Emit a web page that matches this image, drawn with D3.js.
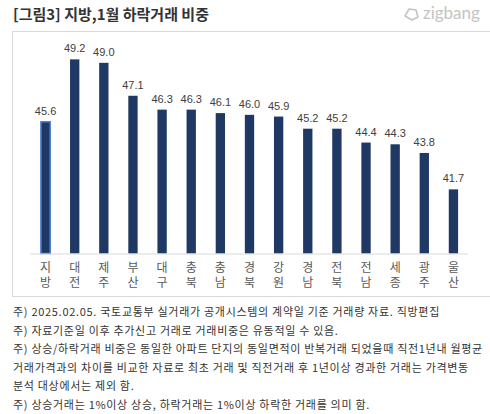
<!DOCTYPE html>
<html>
<head>
<meta charset="utf-8">
<script src="https://cdn.jsdelivr.net/npm/d3@7"></script>
<style>
  body { margin: 0; background: #fff; }
  svg { display: block; font-family: "Noto Sans CJK KR", "Noto Sans", sans-serif; }
</style>
</head>
<body>
<svg id="chart" width="490" height="414"></svg>
<script>
// regions, left to right
const regions = ["지방", "대전", "제주", "부산", "대구", "충북", "충남", "경북", "강원", "경남", "전북", "전남", "세종", "광주", "울산"];
// share of falling trades, Jan (%)
const shares = [45.6, 49.2, 49.0, 47.1, 46.3, 46.3, 46.1, 46.0, 45.9, 45.2, 45.2, 44.4, 44.3, 43.8, 41.7];
const notes = [
  "주) 2025.02.05. 국토교통부 실거래가 공개시스템의 계약일 기준 거래량  자료. 직방편집",
  "주) 자료기준일 이후 추가신고 거래로 거래비중은 유동적일 수 있음.",
  "주) 상승/하락거래 비중은 동일한 아파트 단지의 동일면적이 반복거래 되었을때 직전1년내 월평균",
  "거래가격과의 차이를 비교한 자료로 최초 거래 및 직전거래 후 1년이상 경과한 거래는 가격변동",
  "분석 대상에서는 제외 함.",
  "주) 상승거래는 1%이상 상승, 하락거래는 1%이상 하락한 거래를 의미 함."
];

const data = regions.map((r, i) => ({ region: r, value: shares[i] }));

const svg = d3.select("#chart");

// title + logo
svg.append("text")
  .attr("x", 13).attr("y", 20)
  .attr("font-size", 15).attr("font-weight", "bold").attr("fill", "#333")
  .text("[그림3] 지방,1월 하락거래 비중");

const logo = svg.append("g").attr("transform", "translate(404,14)");
logo.append("path")
  .attr("d", "M1,2 L5,-5 L12,-4 L14,3 L8,6 Z")
  .attr("fill", "none").attr("stroke", "#c4c4c4").attr("stroke-width", 1.6)
  .attr("stroke-linejoin", "round");
logo.append("text")
  .attr("x", 19).attr("y", 5)
  .attr("font-family", "Lato, 'Open Sans', sans-serif")
  .attr("font-size", 17).attr("fill", "#c4c4c4")
  .text("zigbang");

// panel box
svg.append("rect")
  .attr("x", 12.5).attr("y", 31.5)
  .attr("width", 490).attr("height", 265)
  .attr("fill", "none").attr("stroke", "#d9d9d9");

const x = d3.scaleBand()
  .domain(regions)
  .range([31, 468])
  .paddingInner(0.68)
  .paddingOuter(0.34);

const y = d3.scaleLinear()
  .domain([38, 50])
  .range([253.5, 45.5]);

// bars
svg.append("g")
  .selectAll("rect")
  .data(data)
  .join("rect")
  .attr("x", d => x(d.region))
  .attr("y", d => y(d.value))
  .attr("width", x.bandwidth())
  .attr("height", d => y(38) - y(d.value))
  .attr("fill", "#203864")
  .attr("stroke", (d, i) => i === 0 ? "#4f81d4" : "none")
  .attr("stroke-width", 1.5);

// value labels
svg.append("g")
  .selectAll("text")
  .data(data)
  .join("text")
  .attr("x", d => x(d.region) + x.bandwidth() / 2)
  .attr("y", d => y(d.value) - 7)
  .attr("text-anchor", "middle")
  .attr("font-family", "Liberation Sans, Arial, sans-serif")
  .attr("font-size", 11).attr("fill", "#404040")
  .text(d => d.value.toFixed(1));

// x axis baseline
svg.append("line")
  .attr("x1", 30).attr("x2", 468)
  .attr("y1", y(38) + 0.5).attr("y2", y(38) + 0.5)
  .attr("stroke", "#d9d9d9");

// vertical category labels (stacked syllables)
svg.append("g")
  .selectAll("text")
  .data(regions)
  .join("text")
  .attr("x", d => x(d) + x.bandwidth() / 2)
  .attr("y", 261)
  .style("writing-mode", "vertical-rl")
  .style("text-orientation", "upright")
  .attr("letter-spacing", 3)
  .attr("font-size", 12).attr("fill", "#595959")
  .text(d => d);

// footnotes
svg.append("g")
  .selectAll("text")
  .data(notes)
  .join("text")
  .attr("x", 13)
  .attr("y", (d, i) => 316 + i * 18.6)
  .attr("font-size", 11).attr("letter-spacing", 0.7).attr("fill", "#333")
  .text(d => d);
</script>
</body>
</html>
